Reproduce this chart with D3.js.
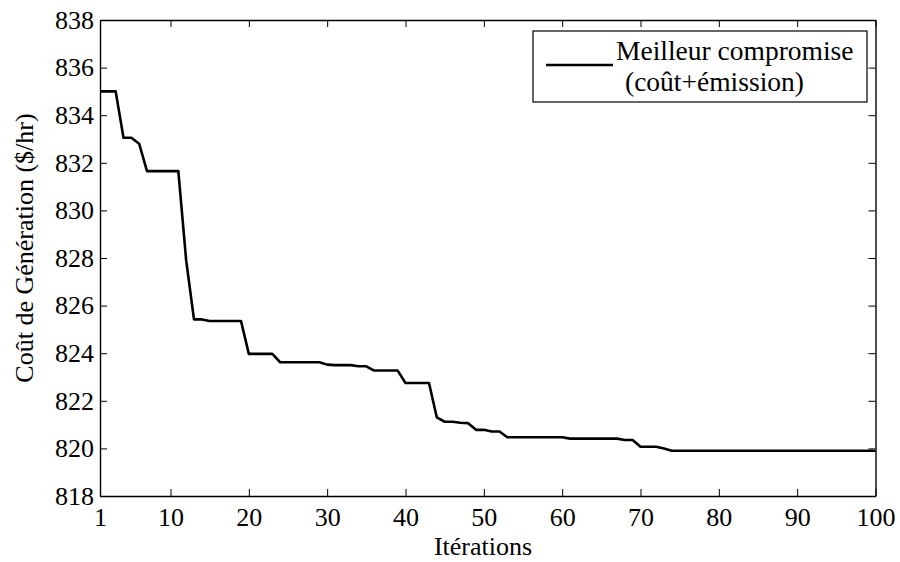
<!DOCTYPE html>
<html>
<head>
<meta charset="utf-8">
<script src="https://cdn.jsdelivr.net/npm/d3@7"></script>
<style>
  html, body { margin: 0; padding: 0; background: #fff; }
  svg { display: block; }
  svg text { font-family: "Liberation Serif", "DejaVu Serif", serif; }
</style>
</head>
<body>
<svg id="chart" width="900" height="562"></svg>
<script>
// Best compromise cost per iteration (iterations 1..100)
const iterations = d3.range(1, 101);
const costValues = [
  835.00, 835.00, 835.00, 833.05, 833.05, 832.80, 831.65, 831.65, 831.65, 831.65,
  831.65, 827.90, 825.42, 825.42, 825.35, 825.35, 825.35, 825.35, 825.35, 823.97,
  823.97, 823.97, 823.97, 823.62, 823.62, 823.62, 823.62, 823.62, 823.62, 823.52,
  823.50, 823.50, 823.50, 823.45, 823.45, 823.27, 823.27, 823.27, 823.27, 822.75,
  822.75, 822.75, 822.75, 821.30, 821.12, 821.12, 821.08, 821.06, 820.78, 820.78,
  820.71, 820.71, 820.47, 820.47, 820.47, 820.47, 820.47, 820.47, 820.47, 820.47,
  820.41, 820.41, 820.41, 820.41, 820.41, 820.41, 820.41, 820.35, 820.35, 820.07,
  820.07, 820.07, 820.00, 819.90, 819.90, 819.90, 819.90, 819.90, 819.90, 819.90,
  819.90, 819.90, 819.90, 819.90, 819.90, 819.90, 819.90, 819.90, 819.90, 819.90,
  819.90, 819.90, 819.90, 819.90, 819.90, 819.90, 819.90, 819.90, 819.90, 819.90
];
const xTicks = [1, 10, 20, 30, 40, 50, 60, 70, 80, 90, 100];
const yTicks = [818, 820, 822, 824, 826, 828, 830, 832, 834, 836, 838];
const seriesName = ["Meilleur compromise", "(coût+émission)"];
const xTitle = "Itérations";
const yTitle = "Coût de Génération ($/hr)";

const serif = "Liberation Serif";
const svg = d3.select("#chart");
const plotLeft = 100, plotRight = 875.5, plotTop = 20, plotBottom = 496;
const x = d3.scaleLinear().domain([1, 100]).range([plotLeft, plotRight]);
const y = d3.scaleLinear().domain([818, 838]).range([plotBottom, plotTop]);
const tickLen = 7;
const fontSize = 26;

function styleAxis(g, showLabels) {
  g.attr("font-family", serif).attr("font-size", fontSize);
  g.selectAll(".domain").attr("stroke", "#000").attr("stroke-width", 1.4);
  g.selectAll(".tick line").attr("stroke", "#000").attr("stroke-width", 1);
  g.selectAll(".tick text").attr("fill", "#000");
  if (!showLabels) g.selectAll(".tick text").remove();
}

// bottom axis with labels, ticks pointing inward
svg.append("g")
  .attr("transform", `translate(0,${plotBottom})`)
  .call(d3.axisBottom(x).tickValues(xTicks).tickFormat(d3.format("d"))
    .tickSizeInner(-tickLen).tickSizeOuter(0).tickPadding(12))
  .call(g => styleAxis(g, true));

// top axis (box), ticks only
svg.append("g")
  .attr("transform", `translate(0,${plotTop})`)
  .call(d3.axisTop(x).tickValues(xTicks).tickSizeInner(-tickLen).tickSizeOuter(0))
  .call(g => styleAxis(g, false));

// left axis with labels
svg.append("g")
  .attr("transform", `translate(${plotLeft},0)`)
  .call(d3.axisLeft(y).tickValues(yTicks).tickFormat(d3.format("d"))
    .tickSizeInner(-tickLen).tickSizeOuter(0).tickPadding(6))
  .call(g => styleAxis(g, true));

// right axis (box), ticks only
svg.append("g")
  .attr("transform", `translate(${plotRight},0)`)
  .call(d3.axisRight(y).tickValues(yTicks).tickSizeInner(-tickLen).tickSizeOuter(0))
  .call(g => styleAxis(g, false));

// cost curve
const line = d3.line()
  .x((d, i) => x(iterations[i]))
  .y(d => y(d));

svg.append("path")
  .datum(costValues)
  .attr("fill", "none")
  .attr("stroke", "#000")
  .attr("stroke-width", 2.6)
  .attr("stroke-linejoin", "round")
  .attr("d", line);

// axis titles
svg.append("text")
  .attr("x", 483)
  .attr("y", 555)
  .attr("text-anchor", "middle")
  .attr("font-family", serif)
  .attr("font-size", fontSize)
  .text(xTitle);

svg.append("text")
  .attr("transform", "translate(33,248) rotate(-90)")
  .attr("text-anchor", "middle")
  .attr("font-family", serif)
  .attr("font-size", fontSize)
  .text(yTitle);

// legend
const legend = svg.append("g")
  .attr("font-family", serif)
  .attr("font-size", 27.5);
legend.append("rect")
  .attr("x", 533).attr("y", 31)
  .attr("width", 334).attr("height", 71)
  .attr("fill", "#fff").attr("stroke", "#000").attr("stroke-width", 1.2);
legend.append("line")
  .attr("x1", 546).attr("x2", 613)
  .attr("y1", 65).attr("y2", 65)
  .attr("stroke", "#000").attr("stroke-width", 2.6);
legend.append("text")
  .attr("x", 616).attr("y", 60)
  .text(seriesName[0]);
legend.append("text")
  .attr("x", 625).attr("y", 91)
  .text(seriesName[1]);
</script>
</body>
</html>
